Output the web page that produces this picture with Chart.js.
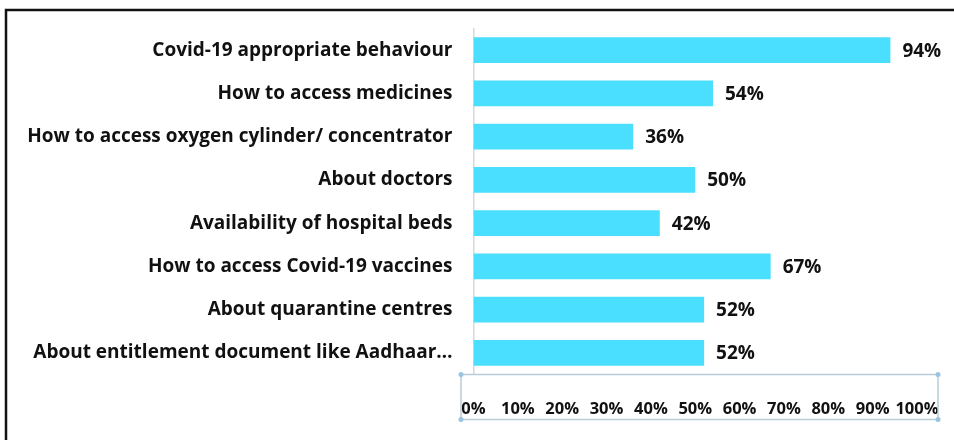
<!DOCTYPE html>
<html>
<head>
<meta charset="utf-8">
<script src="https://cdn.jsdelivr.net/npm/chart.js@4.4.0/dist/chart.umd.min.js"></script>
<style>
  html, body { margin: 0; padding: 0; background: #ffffff; }
  #wrap { position: relative; width: 954px; height: 440px; }
</style>
</head>
<body>
<div id="wrap"><canvas id="c" width="954" height="440"></canvas></div>
<script>
const categories = [
  "Covid-19 appropriate behaviour",
  "How to access medicines",
  "How to access oxygen cylinder/ concentrator",
  "About doctors",
  "Availability of hospital beds",
  "How to access Covid-19 vaccines",
  "About quarantine centres",
  "About entitlement document like Aadhaar\u2026"
];
const values = [94, 54, 36, 50, 42, 67, 52, 52];
const tickValues = [0, 10, 20, 30, 40, 50, 60, 70, 80, 90, 100];

const BAR = 'rgb(74,222,255)';
const FONT = '"Open Sans"';

const framePlugin = {
  id: 'frame',
  beforeDraw(chart) {
    const ctx = chart.ctx;
    ctx.save();
    ctx.fillStyle = '#fff';
    ctx.fillRect(0, 0, chart.width, chart.height);
    ctx.strokeStyle = '#111';
    ctx.lineWidth = 2.5;
    ctx.strokeRect(6, 10, chart.width + 20, chart.height + 20);
    ctx.restore();
  },
  afterDraw(chart) {
    const ctx = chart.ctx;
    const x = chart.scales.x;
    const l = x.left - 12.5, r = x.right + 21, t = x.top, b = x.top + 45;
    ctx.save();
    ctx.strokeStyle = '#b9cdd8';
    ctx.lineWidth = 1.5;
    ctx.strokeRect(l, t, r - l, b - t);
    ctx.fillStyle = '#9cc3df';
    [[l, t], [r, t], [l, b], [r, b]].forEach(p => {
      ctx.beginPath(); ctx.arc(p[0], p[1], 2.5, 0, Math.PI * 2); ctx.fill();
    });
    ctx.restore();
  }
};

const labelPlugin = {
  id: 'vals',
  afterDatasetsDraw(chart) {
    const ctx = chart.ctx;
    const meta = chart.getDatasetMeta(0);
    ctx.save();
    ctx.font = 'bold 19px ' + FONT;
    ctx.fillStyle = '#111';
    ctx.textAlign = 'left';
    ctx.textBaseline = 'middle';
    meta.data.forEach((bar, i) => {
      ctx.fillText(values[i] + '%', bar.x + 12, bar.y + 1);
    });
    ctx.restore();
  }
};

new Chart(document.getElementById('c'), {
  type: 'bar',
  data: {
    labels: categories,
    datasets: [{
      data: values,
      backgroundColor: BAR,
      borderWidth: 0,
      barPercentage: 0.59,
      categoryPercentage: 1.0
    }]
  },
  plugins: [framePlugin, labelPlugin],
  options: {
    indexAxis: 'y',
    responsive: false,
    animation: false,
    layout: { padding: { top: 28.5, right: 37, left: 0, bottom: 0 } },
    plugins: { legend: { display: false }, tooltip: { enabled: false }, title: { display: false } },
    scales: {
      x: {
        min: 0, max: 100,
        afterBuildTicks(scale) { scale.ticks = tickValues.map(v => ({ value: v })); },
        afterFit(scale) { scale.height = 65.5; scale.paddingLeft = 0; scale.paddingRight = 0; },
        grid: { display: false, drawTicks: false },
        border: { display: false },
        ticks: {
          padding: 25,
          maxRotation: 0,
          autoSkip: false,
          color: '#111',
          font: { family: FONT, weight: 'bold', size: 16.5 },
          callback: v => v + '%'
        }
      },
      y: {
        afterFit(scale) { scale.width = 473.5; scale.paddingTop = 0; scale.paddingBottom = 0; },
        grid: { display: false, drawTicks: false },
        border: { display: true, color: '#d4d8da', width: 1.5 },
        ticks: {
          padding: 21,
          color: '#111',
          font: { family: FONT, weight: 'bold', size: 19 }
        }
      }
    }
  }
});
</script>
</body>
</html>
